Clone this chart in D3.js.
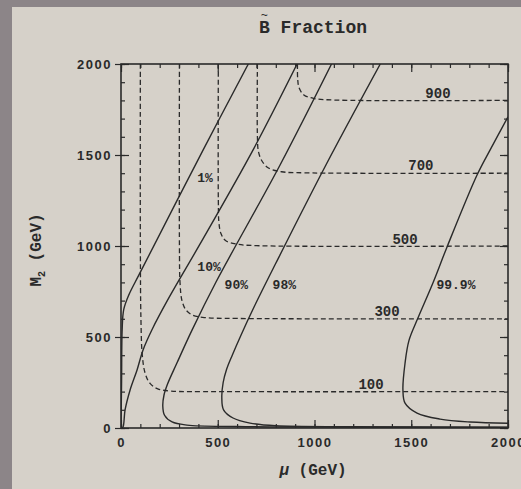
<!DOCTYPE html>
<html>
<head>
<meta charset="utf-8">
<script src="https://cdn.jsdelivr.net/npm/d3@7"></script>
<style>
  body { margin: 0; background: #d6d1c9; }
  svg { display: block; }
</style>
</head>
<body>
<svg id="chart" width="521" height="489"></svg>
<script>
// ---- data (mu, M2) in GeV ----
var xTicks = [0, 500, 1000, 1500, 2000];
var yTicks = [0, 500, 1000, 1500, 2000];
var xTickLabels = ["0", "500", "1000", "1500", "2000"];
var yTickLabels = ["0", "500", "1000", "1500", "2000"];

// bino fraction contours (solid)
var fracNames = ["1%", "10%", "90%", "98%", "99.9%"];
var frac1  = [[0,0],[3,260],[6,540],[14,650],[40,730],[98,852],[424,1527],[658,2000]];
var frac10 = [[2,0],[10,5],[21,99],[47,209],[83,319],[114,429],[160,540],[250,720],[408,1010],[682,1527],[910,2000]];
var frac90 = [[2000,3],[1000,5],[600,8],[341,16],[264,33],[225,70],[216,120],[222,180],[240,240],[289,357],[367,538],[491,802],[822,1445],[1088,2000]];
var frac98 = [[2000,4],[1200,7],[800,12],[667,27],[579,55],[530,100],[521,170],[528,250],[545,320],[575,400],[620,510],[690,670],[800,905],[1059,1445],[1340,2000]];
var frac999 = [[2000,26],[1804,33],[1649,49],[1530,82],[1468,137],[1457,209],[1468,357],[1488,480],[1530,593],[1612,797],[1685,995],[1840,1390],[1907,1527],[2000,1710]];
var fracSeries = [frac1, frac10, frac90, frac98, frac999];
var fracLabelAt = [[434,1374],[455,885],[596,786],[844,786],[1731,786]];

// lightest neutralino mass contours (dashed)
var massNames = ["100", "300", "500", "700", "900"];
var mass100 = [[100,2000],[100,1000],[103,600],[110,400],[125,300],[150,245],[190,215],[260,203],[500,200],[2000,200]];
var mass300 = [[302,2000],[302,1000],[305,800],[315,700],[335,650],[370,620],[430,607],[600,602],[2000,600]];
var mass500 = [[503,2000],[503,1250],[506,1130],[516,1070],[540,1030],[600,1010],[700,1002],[2000,1000]];
var mass700 = [[705,2000],[705,1600],[710,1520],[727,1470],[760,1430],[830,1408],[950,1402],[2000,1400]];
var mass900 = [[912,2000],[913,1920],[920,1870],[945,1830],[1000,1810],[1100,1802],[2000,1800]];
var massSeries = [mass100, mass300, mass500, mass700, mass900];
var massLabelAt = [[1292,242],[1375,643],[1468,1038],[1550,1445],[1638,1841]];

// ---- layout ----
var ink = "#2a2a2a";
var svg = d3.select("#chart");

// darker border of the photo
svg.append("rect").attr("x", 0).attr("y", 0).attr("width", 521).attr("height", 489).attr("fill", "#d6d1c9");
svg.append("rect").attr("x", 0).attr("y", 0).attr("width", 12).attr("height", 489).attr("fill", "#8c8588");
svg.append("rect").attr("x", 0).attr("y", 0).attr("width", 521).attr("height", 7).attr("fill", "#8c8588");

var x = d3.scaleLinear().domain([0, 2000]).range([121, 508]);
var y = d3.scaleLinear().domain([0, 2000]).range([428, 64]);

svg.append("clipPath").attr("id", "plotclip")
  .append("rect")
  .attr("x", x(0)).attr("y", y(2000))
  .attr("width", x(2000) - x(0)).attr("height", y(0) - y(2000));

var minor = d3.range(0, 2001, 100);

// inward minor + major ticks on all four sides
function ticksOn(axisFn, tx, ty) {
  svg.append("g").attr("transform", "translate(" + tx + "," + ty + ")")
    .call(axisFn(minor).tickSize(-4).tickFormat(""))
    .call(function(g) { g.select(".domain").remove(); });
  svg.append("g").attr("transform", "translate(" + tx + "," + ty + ")")
    .call(axisFn(xTicks).tickSize(-8).tickFormat(""))
    .call(function(g) { g.select(".domain").remove(); });
}
ticksOn(function(v) { return d3.axisBottom(x).tickValues(v); }, 0, y(0));
ticksOn(function(v) { return d3.axisTop(x).tickValues(v); }, 0, y(2000));
ticksOn(function(v) { return d3.axisLeft(y).tickValues(v); }, x(0), 0);
ticksOn(function(v) { return d3.axisRight(y).tickValues(v); }, x(2000), 0);

// left axis labels with outward major ticks
var yAx = svg.append("g").attr("transform", "translate(" + x(0) + ",0)")
  .call(d3.axisLeft(y).tickValues(yTicks).tickSize(6).tickPadding(3)
    .tickFormat(function(d, i) { return yTickLabels[i]; }));
yAx.select(".domain").remove();

var xAx = svg.append("g").attr("transform", "translate(0," + y(0) + ")")
  .call(d3.axisBottom(x).tickValues(xTicks).tickSize(0).tickPadding(10)
    .tickFormat(function(d, i) { return xTickLabels[i]; }));
xAx.select(".domain").remove();

svg.selectAll(".tick line").attr("stroke", ink).attr("stroke-width", 1.2);
svg.selectAll(".tick text")
  .attr("fill", ink)
  .style("font-family", "'Liberation Sans', Arial, sans-serif")
  .style("font-weight", "bold")
  .style("font-size", "13px")
  .style("letter-spacing", "1.5px");

// curves
var line = d3.line()
  .x(function(d) { return x(d[0]); })
  .y(function(d) { return y(d[1]); })
  .curve(d3.curveCatmullRom.alpha(0.5));

var plot = svg.append("g").attr("clip-path", "url(#plotclip)");

plot.selectAll(".mass")
  .data(massSeries)
  .enter().append("path")
  .attr("class", "mass")
  .attr("d", line)
  .attr("fill", "none")
  .attr("stroke", ink)
  .attr("stroke-width", 1.3)
  .attr("stroke-dasharray", "5,3");

plot.selectAll(".frac")
  .data(fracSeries)
  .enter().append("path")
  .attr("class", "frac")
  .attr("d", line)
  .attr("fill", "none")
  .attr("stroke", ink)
  .attr("stroke-width", 1.4);

// frame
svg.append("rect")
  .attr("x", x(0)).attr("y", y(2000))
  .attr("width", x(2000) - x(0)).attr("height", y(0) - y(2000))
  .attr("fill", "none").attr("stroke", ink).attr("stroke-width", 1.6);

// contour labels
var labelFont = "'Liberation Mono', 'Courier New', monospace";
svg.selectAll(".flab")
  .data(fracNames)
  .enter().append("text")
  .attr("class", "flab")
  .attr("x", function(d, i) { return x(fracLabelAt[i][0]); })
  .attr("y", function(d, i) { return y(fracLabelAt[i][1]); })
  .attr("dy", "0.35em")
  .attr("text-anchor", "middle")
  .attr("fill", ink)
  .style("font-family", labelFont)
  .style("font-weight", "bold")
  .style("font-size", "13px")
  .text(function(d) { return d; });

svg.selectAll(".mlab")
  .data(massNames)
  .enter().append("text")
  .attr("class", "mlab")
  .attr("x", function(d, i) { return x(massLabelAt[i][0]); })
  .attr("y", function(d, i) { return y(massLabelAt[i][1]); })
  .attr("dy", "0.35em")
  .attr("text-anchor", "middle")
  .attr("fill", ink)
  .style("font-family", labelFont)
  .style("font-weight", "bold")
  .style("font-size", "14px")
  .text(function(d) { return d; });

// title with tilde over B
var title = svg.append("text")
  .attr("x", 313).attr("y", 33)
  .attr("text-anchor", "middle")
  .attr("fill", ink)
  .style("font-family", labelFont)
  .style("font-weight", "bold")
  .style("font-size", "18px")
  .text("B Fraction");
var tw = title.node().getComputedTextLength();
var bw = title.node().getSubStringLength(0, 1);
svg.append("text")
  .attr("x", 313 - tw / 2 + bw / 2).attr("y", 19)
  .attr("text-anchor", "middle")
  .attr("fill", ink)
  .style("font-family", labelFont)
  .style("font-size", "12px")
  .text("~");

// axis titles
svg.append("text")
  .attr("x", 313).attr("y", 475)
  .attr("text-anchor", "middle")
  .attr("fill", ink)
  .style("font-family", labelFont)
  .style("font-weight", "bold")
  .style("font-size", "16px")
  .html("<tspan font-style='italic'>μ</tspan> (GeV)");

var yl = svg.append("text")
  .attr("transform", "translate(41,250) rotate(-90)")
  .attr("text-anchor", "middle")
  .attr("fill", ink)
  .style("font-family", labelFont)
  .style("font-weight", "bold")
  .style("font-size", "16px");
yl.append("tspan").text("M");
yl.append("tspan").attr("dy", 4).style("font-size", "10px").text("2");
yl.append("tspan").attr("dy", -4).text(" (GeV)");
</script>
</body>
</html>
